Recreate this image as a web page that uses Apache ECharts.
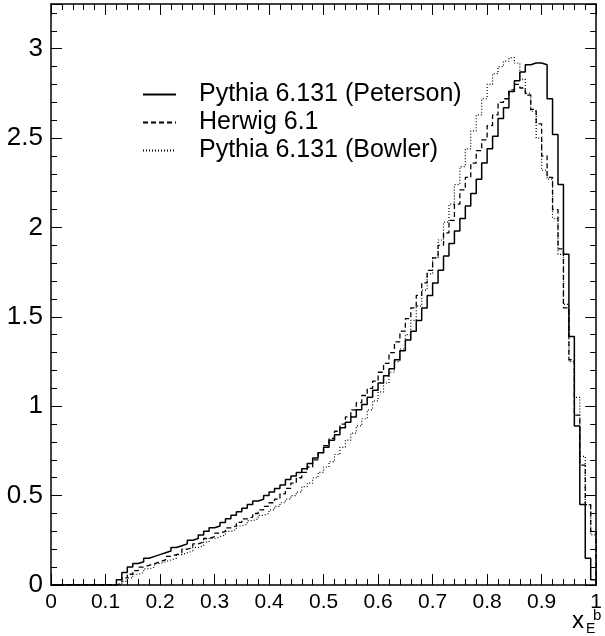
<!DOCTYPE html>
<html>
<head>
<meta charset="utf-8">
<script src="https://cdn.jsdelivr.net/npm/echarts@6/dist/echarts.min.js"></script>
<style>
  html, body { margin: 0; padding: 0; background: #fff; }
  #chart { width: 605px; height: 636px; }
</style>
</head>
<body>
<div id="chart"></div>
<script>
// histogram bins, lower edge of first filled bin and width
var binStart = 0.12;
var binWidth = 0.01;

var peterson = [
  0.03, 0.07, 0.10, 0.12, 0.13, 0.15, 0.16, 0.17,
  0.18, 0.19, 0.21, 0.22, 0.23, 0.25, 0.26, 0.28, 0.30, 0.32,
  0.33, 0.35, 0.37, 0.39, 0.41, 0.43, 0.45, 0.47, 0.48, 0.50,
  0.52, 0.54, 0.56, 0.59, 0.61, 0.63, 0.65, 0.68, 0.71, 0.74,
  0.77, 0.81, 0.84, 0.88, 0.91, 0.94, 0.98, 1.01, 1.05, 1.09,
  1.13, 1.17, 1.21, 1.26, 1.31, 1.37, 1.42, 1.48, 1.55, 1.62,
  1.69, 1.76, 1.84, 1.91, 1.98, 2.05, 2.12, 2.19, 2.27, 2.36,
  2.44, 2.51, 2.61, 2.67, 2.76, 2.82, 2.87, 2.91, 2.92, 2.92,
  2.91, 2.72, 2.52, 2.24, 1.85, 1.39, 0.89, 0.45, 0.15, 0.03
];
var herwig = [
  0.01, 0.04, 0.06, 0.08, 0.10, 0.11, 0.12, 0.13,
  0.14, 0.16, 0.17, 0.18, 0.20, 0.21, 0.23, 0.24, 0.26, 0.27,
  0.29, 0.30, 0.32, 0.33, 0.35, 0.37, 0.38, 0.40, 0.42, 0.44,
  0.46, 0.48, 0.51, 0.54, 0.57, 0.60, 0.63, 0.66, 0.70, 0.74,
  0.78, 0.82, 0.86, 0.90, 0.94, 0.98, 1.02, 1.06, 1.10, 1.14,
  1.19, 1.24, 1.30, 1.36, 1.42, 1.49, 1.55, 1.62, 1.69, 1.76,
  1.83, 1.90, 1.97, 2.04, 2.13, 2.21, 2.28, 2.36, 2.43, 2.49,
  2.57, 2.63, 2.70, 2.72, 2.77, 2.80, 2.78, 2.74, 2.66, 2.58,
  2.40, 2.28, 2.10, 1.88, 1.55, 1.26, 0.95, 0.67, 0.45, 0.30
];
var bowler = [
  0.00, 0.02, 0.04, 0.06, 0.07, 0.09, 0.10, 0.12,
  0.13, 0.14, 0.15, 0.17, 0.18, 0.19, 0.21, 0.22, 0.24, 0.26,
  0.27, 0.28, 0.30, 0.31, 0.33, 0.34, 0.36, 0.37, 0.39, 0.40,
  0.42, 0.44, 0.46, 0.48, 0.50, 0.52, 0.55, 0.57, 0.60, 0.63,
  0.66, 0.69, 0.73, 0.77, 0.81, 0.85, 0.89, 0.93, 0.98, 1.03,
  1.08, 1.13, 1.19, 1.25, 1.32, 1.40, 1.48, 1.56, 1.65, 1.74,
  1.83, 1.93, 2.03, 2.13, 2.24, 2.34, 2.44, 2.54, 2.63, 2.72,
  2.80, 2.86, 2.90, 2.93, 2.95, 2.92, 2.83, 2.75, 2.65, 2.50,
  2.32, 2.27, 2.05, 1.85, 1.57, 1.25, 1.05, 0.72, 0.45, 0.28
];

var names = ['Pythia 6.131 (Peterson)', 'Herwig 6.1', 'Pythia 6.131 (Bowler)'];

var FONT = '"Liberation Sans", Arial, Helvetica, sans-serif';

// turn bin contents into step outline points
function outline(vals) {
  var pts = [[0, 0]];
  for (var i = 0; i < vals.length; i++) {
    var x = Math.round((binStart + i * binWidth) * 1000) / 1000;
    pts.push([x, vals[i]]);
  }
  pts.push([1, 0]);
  return pts;
}

var chart = echarts.init(document.getElementById('chart'));

var tickStyle = { color: '#000', width: 1 };
function xAx(pos, labels) {
  return {
    type: 'value', position: pos, min: 0, max: 1, interval: 0.1,
    axisLine: { show: true, onZero: false, lineStyle: { color: '#000', width: 1.5 } },
    axisTick: { show: true, inside: true, length: 11, lineStyle: tickStyle },
    minorTick: { show: true, splitNumber: 5, length: 6, lineStyle: tickStyle },
    splitLine: { show: false },
    axisLabel: {
      show: labels, margin: 7, color: '#000', fontSize: 21, fontFamily: FONT,
      formatter: function (v) { return String(Math.round(v * 10) / 10); }
    }
  };
}
function yAx(pos, labels) {
  return {
    type: 'value', position: pos, min: 0, max: 3.25, interval: 0.5,
    axisLine: { show: true, onZero: false, lineStyle: { color: '#000', width: 1.5 } },
    axisTick: { show: true, inside: true, length: 11, lineStyle: tickStyle },
    minorTick: { show: true, splitNumber: 5, length: 6, lineStyle: tickStyle },
    splitLine: { show: false },
    axisLabel: {
      show: labels, margin: 8, color: '#000', fontSize: 26, fontFamily: FONT,
      showMaxLabel: false,
      formatter: function (v) { return String(v); }
    }
  };
}

var option = {
  animation: false,
  backgroundColor: '#fff',
  grid: { left: 51, right: 8, top: 4, bottom: 51 },
  xAxis: [xAx('bottom', true), xAx('top', false)],
  yAxis: [yAx('left', true), yAx('right', false)],
  legend: {
    orient: 'vertical',
    left: 137, top: 77,
    itemWidth: 33, itemHeight: 14, itemGap: 3,
    itemStyle: { opacity: 0 },
    textStyle: { color: '#000', fontSize: 25, fontFamily: FONT, padding: [0, 0, 0, 18] },
    data: names
  },
  graphic: [
    { type: 'text', left: 572, top: 609, style: { text: 'x', fontSize: 24, fontFamily: FONT, fill: '#000' } },
    { type: 'text', left: 586, top: 622, style: { text: 'E', fontSize: 14, fontFamily: FONT, fill: '#000' } },
    { type: 'text', left: 593, top: 608, style: { text: 'b', fontSize: 15, fontFamily: FONT, fill: '#000' } }
  ],
  series: [
    {
      name: names[0], type: 'line', step: 'end', symbol: 'none',
      data: outline(peterson),
      lineStyle: { color: '#000', width: 1.5, type: 'solid' },
      itemStyle: { color: '#000' }
    },
    {
      name: names[1], type: 'line', step: 'end', symbol: 'none',
      data: outline(herwig),
      lineStyle: { color: '#000', width: 1.3, type: [5, 3] },
      itemStyle: { color: '#000' }
    },
    {
      name: names[2], type: 'line', step: 'end', symbol: 'none',
      data: outline(bowler),
      lineStyle: { color: '#000', width: 1.2, type: [1, 2] },
      itemStyle: { color: '#000' }
    }
  ]
};

chart.setOption(option);
</script>
</body>
</html>
